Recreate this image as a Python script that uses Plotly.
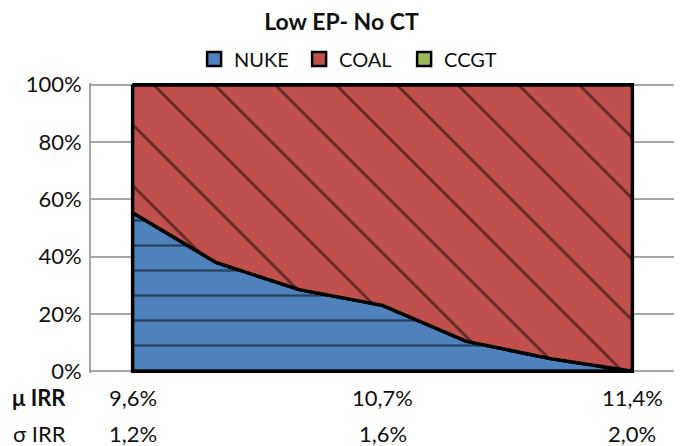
import plotly.graph_objects as go

# Generation mix share (%) along the efficient frontier
points = [0, 1, 2, 3, 4, 5, 6]
nuke = [55.3, 38.0, 28.5, 23.0, 10.5, 4.5, 0.0]
coal = [100 - v for v in nuke]
ccgt = [0.0] * len(points)

# Frontier statistics shown under the axis
label_points = [0, 3, 6]
mu_irr = ["9,6%", "10,7%", "11,4%"]
sigma_irr = ["1,2%", "1,6%", "2,0%"]
row_names = ["<b>μ IRR</b>", "σ IRR"]

series = [
    ("NUKE", nuke, "#4F81BD", "-", 25, 0.09),
    ("COAL", coal, "#C0504D", "\\", 43, 0.065),
    ("CCGT", ccgt, "#9BBB59", "", 10, 0.1),
]

FONT = "Lato"
TXT = "#111111"
fig = go.Figure()

base = [0.0] * len(points)
for name, vals, color, shape, size, solid in series:
    top = [b + v for b, v in zip(base, vals)]
    # closed outline: along the top, back along the base, then up to the start
    xs = points + points[::-1] + [points[0]]
    ys = top + base[::-1] + [top[0]]
    pattern = dict(shape=shape, size=size, solidity=solid,
                   fgcolor="black", bgcolor=color, fillmode="overlay") if shape else None
    fig.add_trace(go.Scatter(
        x=xs, y=ys, fill="toself", fillcolor=color,
        fillpattern=pattern,
        mode="lines", line=dict(color="black", width=3.5),
        showlegend=False, hoverinfo="skip",
    ))
    # legend entry
    fig.add_trace(go.Scatter(
        x=[None], y=[None], mode="markers", name=name,
        marker=dict(symbol="square", size=14, color=color,
                    line=dict(color="black", width=2.5)),
    ))
    base = top

annotations = []
for xp, mu, sg in zip(label_points, mu_irr, sigma_irr):
    annotations.append(dict(x=xp, y=0, xref="x", yref="paper", text=mu,
                            showarrow=False, yanchor="middle", yshift=-24,
                            font=dict(family=FONT, size=22, color=TXT)))
    annotations.append(dict(x=xp, y=0, xref="x", yref="paper", text=sg,
                            showarrow=False, yanchor="middle", yshift=-60,
                            font=dict(family=FONT, size=22, color=TXT)))
for i, rn in enumerate(row_names):
    annotations.append(dict(x=0, y=0, xref="paper", yref="paper", text=rn,
                            showarrow=False, xanchor="right", yanchor="middle",
                            xshift=-23, yshift=-24 - 36 * i,
                            font=dict(family=FONT, size=22, color=TXT)))

fig.update_layout(
    width=683, height=446,
    margin=dict(l=91, r=9, t=83, b=73),
    paper_bgcolor="white", plot_bgcolor="white",
    title=dict(text="<b>Low EP- No CT</b>", x=0.5, xanchor="center",
               y=1 - 22 / 446, yanchor="middle",
               font=dict(family=FONT, size=23, color=TXT)),
    legend=dict(orientation="h", x=0.447, xanchor="center",
                y=1 + 24 / 290, yanchor="middle",
                font=dict(family=FONT, size=20, color=TXT),
                itemwidth=30, entrywidth=60, tracegroupgap=0,
                bgcolor="rgba(0,0,0,0)"),
    annotations=annotations,
    xaxis=dict(range=[-0.5, 6.5], showticklabels=False, showgrid=False,
               zeroline=False, showline=False, fixedrange=True),
    yaxis=dict(range=[-0.6, 100.6], tickvals=[0, 20, 40, 60, 80, 100],
               ticktext=["0%", "20%", "40%", "60%", "80%", "100%"],
               showgrid=True, gridcolor="#A6A6A6", gridwidth=2,
               showline=True, linecolor="#A6A6A6", linewidth=2,
               zeroline=False, ticks="", ticklabelstandoff=3,
               tickfont=dict(family=FONT, size=22, color=TXT)),
)

fig.write_html("out.html")
